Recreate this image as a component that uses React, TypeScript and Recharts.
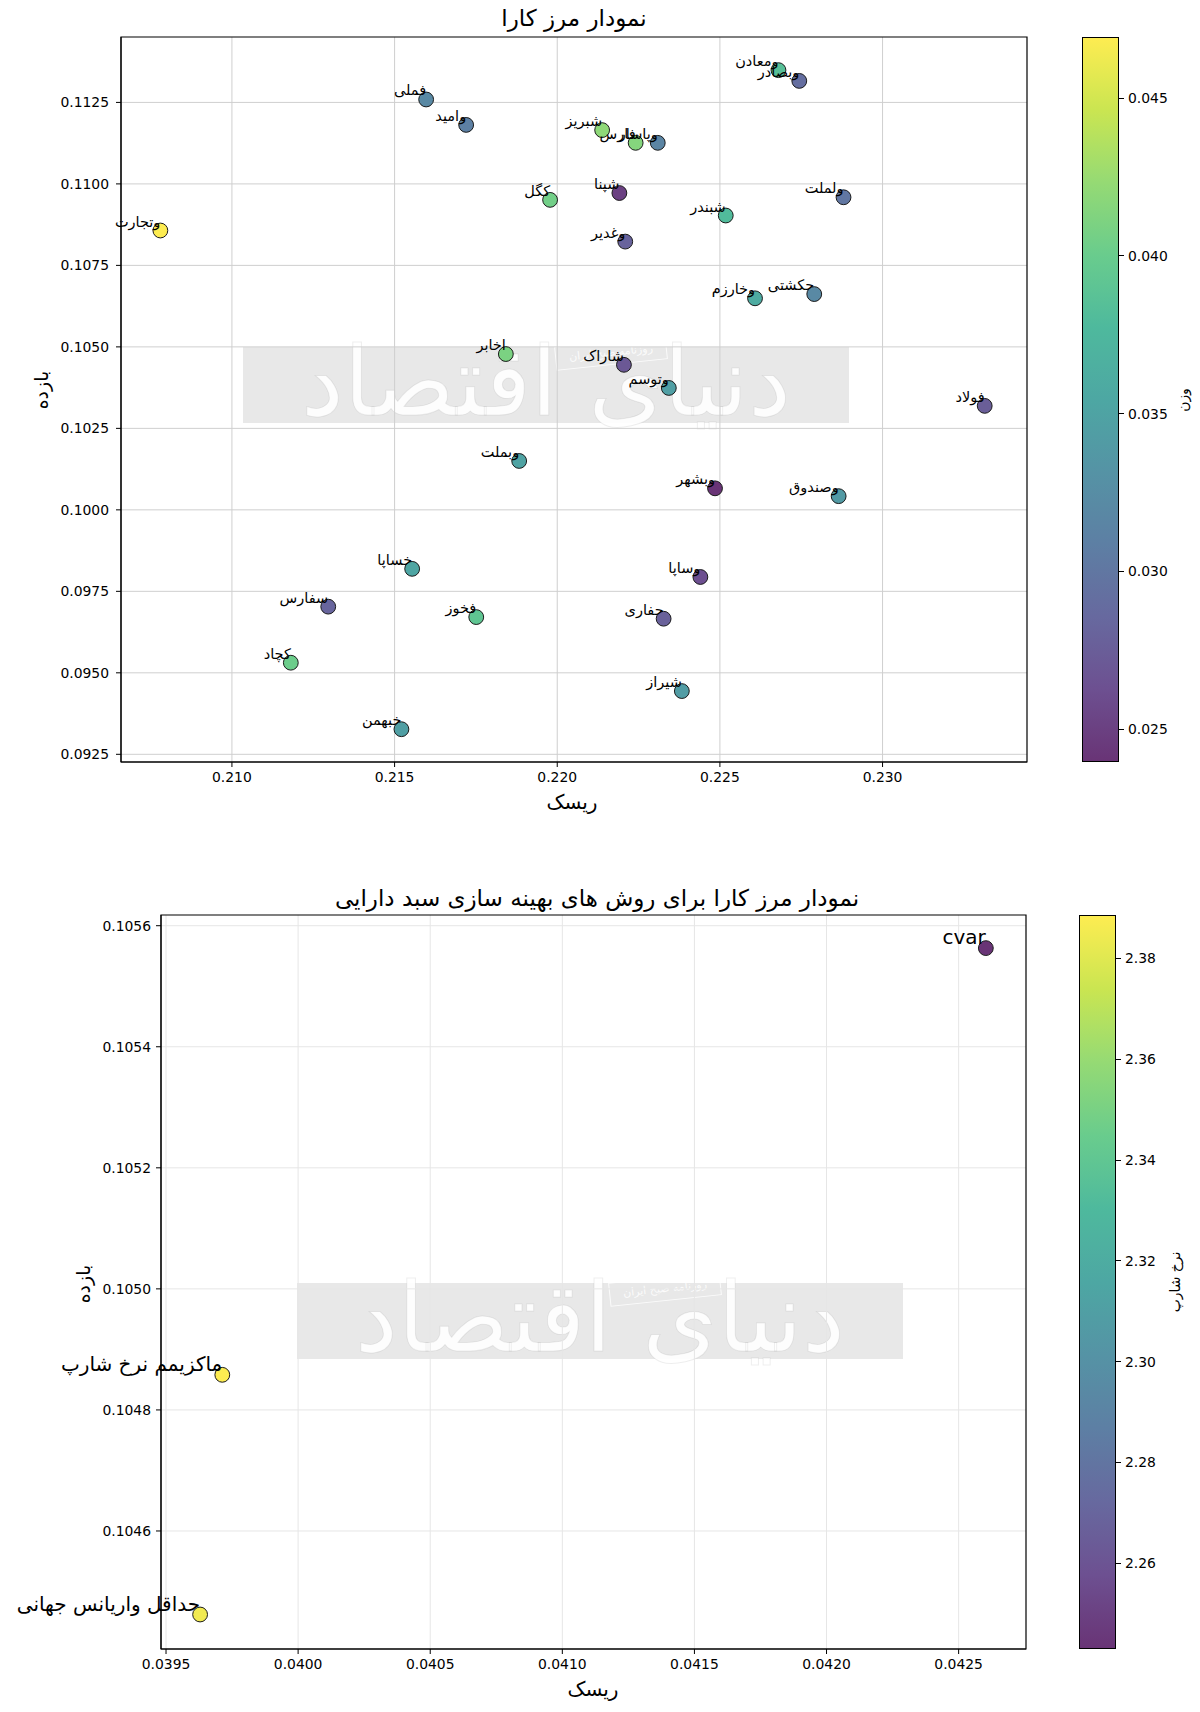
import React from 'react';
import { ScatterChart, Scatter, XAxis, YAxis, CartesianGrid, ReferenceArea } from 'recharts';

// ---------- Chart 1 data (efficient frontier of individual stocks) ----------
const tickers = [
  'فملی', 'وامید', 'شبریز', 'فارس', 'وپاسار', 'شپنا', 'کگل', 'وتجارت', 'وغدیر', 'شبندر',
  'ومعادن', 'وبصادر', 'ولملت', 'وخارزم', 'حکشتی', 'شاراک', 'وتوسم', 'اخابر', 'فولاد', 'وبشهر',
  'وصندوق', 'وساپا', 'حفاری', 'شیراز', 'وبملت', 'خساپا', 'سفارس', 'فخوز', 'کچاد', 'خبهمن',
];
const riskValues = [
  0.21597, 0.21720, 0.22138, 0.22241, 0.22309, 0.22191, 0.21978, 0.20780, 0.22209, 0.22518,
  0.22680, 0.22744, 0.22880, 0.22608, 0.22790, 0.22205, 0.22343, 0.21842, 0.23314, 0.22485,
  0.22865, 0.22440, 0.22327, 0.22383, 0.21883, 0.21554, 0.21296, 0.21751, 0.21181, 0.21521,
];
const returnValues = [
  0.11259, 0.11181, 0.11165, 0.11126, 0.11126, 0.10972, 0.10951, 0.10857, 0.10823, 0.10903,
  0.11349, 0.11316, 0.10959, 0.10649, 0.10662, 0.10445, 0.10374, 0.10478, 0.10319, 0.10066,
  0.10042, 0.09794, 0.09666, 0.09444, 0.10150, 0.09819, 0.09703, 0.09671, 0.09531, 0.09327,
];
const weightValues = [
  0.0320, 0.0310, 0.0420, 0.0415, 0.0315, 0.0250, 0.0405, 0.04694, 0.0280, 0.0380,
  0.0385, 0.0290, 0.0300, 0.0360, 0.0320, 0.0270, 0.0345, 0.0410, 0.0275, 0.02396,
  0.0340, 0.0262, 0.0278, 0.0342, 0.0350, 0.0352, 0.0282, 0.0392, 0.0402, 0.0345,
];
const xTicks1 = [0.21, 0.215, 0.22, 0.225, 0.23];
const yTicks1 = [0.0925, 0.095, 0.0975, 0.1, 0.1025, 0.105, 0.1075, 0.11, 0.1125];
const cbTicks1 = [0.025, 0.03, 0.035, 0.04, 0.045];

// ---------- Chart 2 data (optimisation methods) ----------
const methodNames = ['حداقل واریانس جهانی', 'ماکزیمم نرخ شارپ', 'cvar'];
const methodRisk = [0.039629, 0.039713, 0.042603];
const methodReturn = [0.104462, 0.104858, 0.105563];
const methodSharpe = [2.385, 2.3886, 2.243];
const xTicks2 = [0.0395, 0.04, 0.0405, 0.041, 0.0415, 0.042, 0.0425];
const yTicks2 = [0.1046, 0.1048, 0.105, 0.1052, 0.1054, 0.1056];
const cbTicks2 = [2.26, 2.28, 2.3, 2.32, 2.34, 2.36, 2.38];

// ---------- colour map ----------
const VIRIDIS = ['#440154', '#482475', '#414487', '#355f8d', '#2a788e', '#21918c', '#22a884', '#44bf70', '#7ad151', '#bddf26', '#fde725'];
function hexToRgb(h: string) {
  return [parseInt(h.slice(1, 3), 16), parseInt(h.slice(3, 5), 16), parseInt(h.slice(5, 7), 16)];
}
function viridis(t: number, alpha = 0.8) {
  const tt = Math.max(0, Math.min(1, t));
  const p = tt * (VIRIDIS.length - 1);
  const i = Math.min(VIRIDIS.length - 2, Math.floor(p));
  const f = p - i;
  const a = hexToRgb(VIRIDIS[i]);
  const b = hexToRgb(VIRIDIS[i + 1]);
  const c = a.map((v, k) => v + (b[k] - v) * f).map((v) => Math.round(v * alpha + 255 * (1 - alpha)));
  return `rgb(${c[0]},${c[1]},${c[2]})`;
}

const w1Min = Math.min(...weightValues);
const w1Max = Math.max(...weightValues);
const s2Min = Math.min(...methodSharpe);
const s2Max = Math.max(...methodSharpe);

const data1 = tickers.map((name, i) => ({
  name,
  x: riskValues[i],
  y: returnValues[i],
  color: viridis((weightValues[i] - w1Min) / (w1Max - w1Min)),
}));
const data2 = methodNames.map((name, i) => ({
  name,
  x: methodRisk[i],
  y: methodReturn[i],
  color: viridis((methodSharpe[i] - s2Min) / (s2Max - s2Min)),
}));

const FONT = '"DejaVu Sans", sans-serif';
const X1: [number, number] = [0.20659, 0.23444];
const Y1: [number, number] = [0.092264, 0.114507];
const X2: [number, number] = [0.039481, 0.042755];
const Y2: [number, number] = [0.104405, 0.1056177];

function Dot(props: any) {
  const { cx, cy, payload } = props;
  if (cx == null || cy == null) return null;
  return <circle cx={cx} cy={cy} r={7.4} fill={payload.color} stroke="#1a1a1a" strokeWidth={1} />;
}
function makeLabel(fs: number) {
  return (props: any) => {
    const { cx, cy, payload } = props;
    if (cx == null || cy == null) return null;
    return (
      <text x={cx} y={cy - 4} textAnchor="end" fontSize={fs} fontFamily={FONT} fill="#000">
        {payload.name}
      </text>
    );
  };
}

function Colorbar(props: { left: number; top: number; height: number; min: number; max: number; ticks: number[]; fmt: (v: number) => string }) {
  const { left, top, height, min, max, ticks, fmt } = props;
  const stops: string[] = [];
  for (let k = 0; k <= 20; k++) stops.push(`${viridis(k / 20)} ${(k / 20) * 100}%`);
  return (
    <div style={{ position: 'absolute', left, top, width: 37, height }}>
      <div
        style={{
          position: 'absolute', left: 0, top: 0, width: 37, height, boxSizing: 'border-box',
          border: '1px solid #000', background: `linear-gradient(to top, ${stops.join(',')})`,
        }}
      />
      {ticks.map((t) => {
        const y = height - ((t - min) / (max - min)) * height;
        return (
          <div key={t}>
            <div style={{ position: 'absolute', left: 37, top: y - 0.5, width: 5, height: 1, background: '#000' }} />
            <div
              style={{
                position: 'absolute', left: 46, top: y - 9, height: 18, lineHeight: '18px',
                fontSize: 13.9, fontFamily: FONT, color: '#000', whiteSpace: 'nowrap',
              }}
            >
              {fmt(t)}
            </div>
          </div>
        );
      })}
    </div>
  );
}

function Text(props: { x: number; y: number; size: number; rotate?: number; children: any }) {
  const { x, y, size, rotate = 0, children } = props;
  return (
    <div
      style={{
        position: 'absolute', left: x, top: y, transform: `translate(-50%,-50%) rotate(${rotate}deg)`,
        fontSize: size, fontFamily: FONT, color: '#000', whiteSpace: 'nowrap', lineHeight: 1.2,
      }}
    >
      {children}
    </div>
  );
}

function Watermark(props: { left: number; top: number }) {
  const { left, top } = props;
  return (
    <div style={{ position: 'absolute', left, top, width: 606, height: 76, pointerEvents: 'none' }}>
      <div style={{ position: 'absolute', inset: 0, background: 'rgba(120,120,120,0.17)' }} />
      <div
        style={{
          position: 'absolute', left: 0, width: 606, top: -40, textAlign: 'center', fontSize: 96,
          fontFamily: '"DejaVu Sans", sans-serif', color: 'rgba(255,255,255,0.9)',
          WebkitTextStroke: '1px rgba(0,0,0,0.07)', lineHeight: '150px', whiteSpace: 'nowrap',
        }}
      >
        دنیای اقتصاد
      </div>
      <div
        style={{
          position: 'absolute', left: 312, top: -6, width: 110, height: 22, border: '1.5px solid rgba(255,255,255,0.8)',
          transform: 'rotate(-6deg)', fontSize: 11, lineHeight: '22px', textAlign: 'center',
          color: 'rgba(255,255,255,0.85)', fontFamily: FONT, whiteSpace: 'nowrap',
        }}
      >
        روزنامه صبح ایران
      </div>
    </div>
  );
}

const tickStyle = { fill: '#000', fontSize: 13.9, fontFamily: FONT };

export default function App() {
  return (
    <div style={{ position: 'absolute', left: 0, top: 0, width: 1200, height: 1712, background: '#fff', overflow: 'hidden' }}>
      <Watermark left={243} top={347} />
      <Watermark left={297} top={1283} />

      {/* -------- Chart 1 -------- */}
      <div style={{ position: 'absolute', left: 0, top: 0 }}>
        <ScatterChart width={1200} height={856} margin={{ top: 37, right: 173, bottom: 44, left: 51 }}>
          <CartesianGrid stroke="#cfcfcf" strokeWidth={1} horizontalValues={yTicks1} verticalValues={xTicks1} />
          <XAxis
            type="number" dataKey="x" domain={X1} ticks={xTicks1} height={50}
            tick={tickStyle} tickSize={5} tickMargin={5} stroke="#000" tickFormatter={(v: number) => v.toFixed(3)}
          />
          <YAxis
            type="number" dataKey="y" domain={Y1} ticks={yTicks1} width={70}
            tick={tickStyle} tickSize={5} tickMargin={7} stroke="#000" tickFormatter={(v: number) => v.toFixed(4)}
          />
          <ReferenceArea x1={X1[0]} x2={X1[1]} y1={Y1[0]} y2={Y1[1]} fill="none" stroke="#000" strokeWidth={1.2} ifOverflow="visible" />
          <Scatter data={data1} shape={Dot} isAnimationActive={false} />
          <Scatter data={data1} shape={makeLabel(14.5)} isAnimationActive={false} />
        </ScatterChart>
      </div>
      <Text x={574} y={19} size={23}>نمودار مرز کارا</Text>
      <Text x={572} y={802} size={20}>ریسک</Text>
      <Text x={41} y={390} size={19} rotate={-90}>بازده</Text>
      <Colorbar left={1082} top={37} height={725} min={w1Min} max={w1Max} ticks={cbTicks1} fmt={(v) => v.toFixed(3)} />
      <Text x={1183} y={400} size={13.9} rotate={-90}>وزن</Text>

      {/* -------- Chart 2 -------- */}
      <div style={{ position: 'absolute', left: 0, top: 856 }}>
        <ScatterChart width={1200} height={856} margin={{ top: 59, right: 174, bottom: 23, left: 81 }}>
          <CartesianGrid stroke="#e6e6e6" strokeWidth={1} horizontalValues={yTicks2} verticalValues={xTicks2} />
          <XAxis
            type="number" dataKey="x" domain={X2} ticks={xTicks2} height={40}
            tick={tickStyle} tickSize={5} tickMargin={5} stroke="#000" tickFormatter={(v: number) => v.toFixed(4)}
          />
          <YAxis
            type="number" dataKey="y" domain={Y2} ticks={yTicks2} width={80}
            tick={tickStyle} tickSize={5} tickMargin={5} stroke="#000" tickFormatter={(v: number) => v.toFixed(4)}
          />
          <ReferenceArea x1={X2[0]} x2={X2[1]} y1={Y2[0]} y2={Y2[1]} fill="none" stroke="#000" strokeWidth={1.2} ifOverflow="visible" />
          <Scatter data={data2} shape={Dot} isAnimationActive={false} />
          <Scatter data={data2} shape={makeLabel(20)} isAnimationActive={false} />
        </ScatterChart>
      </div>
      <Text x={597} y={899} size={23}>نمودار مرز کارا برای روش های بهینه سازی سبد دارایی</Text>
      <Text x={593} y={1689} size={20}>ریسک</Text>
      <Text x={83} y={1284} size={19} rotate={-90}>بازده</Text>
      <Colorbar left={1079} top={915} height={734} min={s2Min} max={s2Max} ticks={cbTicks2} fmt={(v) => v.toFixed(2)} />
      <Text x={1175} y={1282} size={13.9} rotate={-90}>نرخ شارپ</Text>
    </div>
  );
}
